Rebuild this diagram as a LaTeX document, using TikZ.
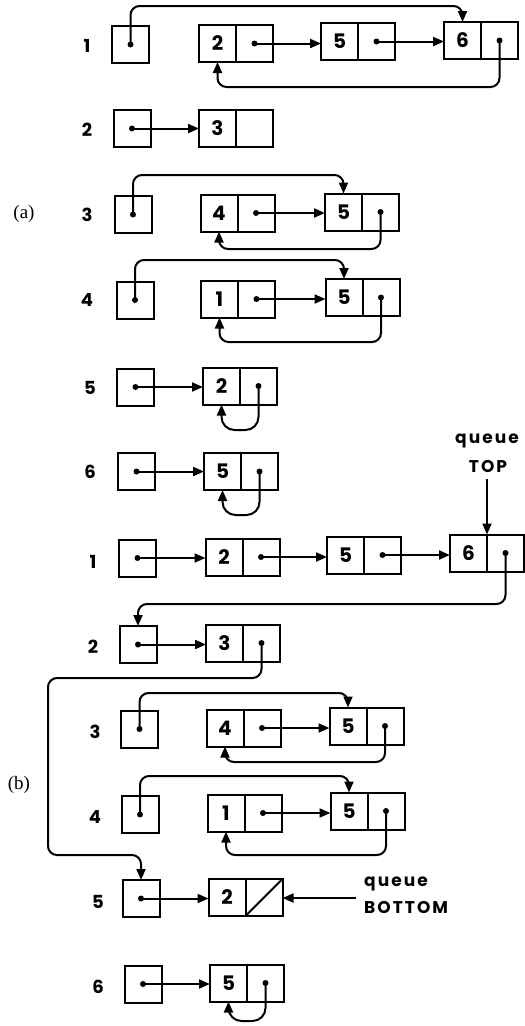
\documentclass[tikz,border=0pt]{standalone}
\usepackage{fontspec}
\usetikzlibrary{arrows.meta,calc}
\newfontfamily\lr{Poppins}
\newfontfamily\lrs{Poppins}[LetterSpace=12]
\newfontfamily\serf{Liberation Serif}
\newcommand{\pdot}[1]{\fill (#1.center) circle (3pt);}
\tikzset{
  box/.style={draw, line width=2pt, minimum width=37pt, minimum height=37pt, inner sep=0pt, outer sep=0pt},
  val/.style={box, font=\lr\bfseries\fontsize{20}{20}\selectfont},
  ptrbox/.style={box, anchor=west},
  lab/.style={font=\lr\bfseries\fontsize{18}{18}\selectfont},
  part/.style={font=\serf\fontsize{19}{19}\selectfont},
  qtext/.style={font=\lrs\bfseries\fontsize{17}{17}\selectfont, inner sep=0pt},
  conn/.style={line width=2pt, -{Triangle[length=11pt,width=9pt]}, rounded corners=9pt},
  loopc/.style={conn, rounded corners=13pt},
}
\begin{document}
\begin{tikzpicture}[x=1pt,y=-1pt]
\useasboundingbox (0,0) rectangle (525,1026);
% ---------------- (a) ----------------
\node[part] (pa) at (24,214) {(a)};
% row 1
\node[lab] (la1) at (87,46) {1};
\node[box] (a1h) at (130.5,44.5) {};
\node[val] (a1c2v) at (217.5,43.5) {2};
\node[ptrbox] (a1c2p) at (a1c2v.east) {};
\node[val] (a1c5v) at (339.5,41.5) {5};
\node[ptrbox] (a1c5p) at (a1c5v.east) {};
\node[val] (a1c6v) at (462.5,40.5) {6};
\node[ptrbox] (a1c6p) at (a1c6v.east) {};
\coordinate (a1t) at (0,6);
\coordinate (a1b) at (0,87);
\draw[conn] (a1h.center) -- (a1h.center |- a1t) -| (a1c6v.north);
\draw[conn] (a1c2p.center) -- (a1c2p.center -| a1c5v.west);
\draw[conn] (a1c5p.center) -- (a1c5p.center -| a1c6v.west);
\draw[conn] (a1c6p.center) -- (a1c6p.center |- a1b) -| (a1c2v.south);
\pdot{a1h}\pdot{a1c2p}\pdot{a1c5p}\pdot{a1c6p}
% row 2
\node[lab] (la2) at (87,130) {2};
\node[box] (a2h) at (132,128.5) {};
\node[val] (a2c3v) at (217.5,128.5) {3};
\node[ptrbox] (a2c3p) at (a2c3v.east) {};
\draw[conn] (a2h.center) -- (a2h.center -| a2c3v.west);
\pdot{a2h}
% row 3
\node[lab] (la3) at (87,215) {3};
\node[box] (a3h) at (133,214.5) {};
\node[val] (a3c4v) at (219,213) {4};
\node[ptrbox] (a3c4p) at (a3c4v.east) {};
\node[val] (a3c5v) at (343.5,212) {5};
\node[ptrbox] (a3c5p) at (a3c5v.east) {};
\coordinate (a3t) at (0,175);
\coordinate (a3b) at (0,249);
\draw[conn] (a3h.center) -- (a3h.center |- a3t) -| (a3c5v.north);
\draw[conn] (a3c4p.center) -- (a3c4p.center -| a3c5v.west);
\draw[conn] (a3c5p.center) -- (a3c5p.center |- a3b) -| (a3c4v.south);
\pdot{a3h}\pdot{a3c4p}\pdot{a3c5p}
% row 4
\node[lab] (la4) at (87,300) {4};
\node[box] (a4h) at (135,300) {};
\node[val] (a4c1v) at (219.5,299) {1};
\node[ptrbox] (a4c1p) at (a4c1v.east) {};
\node[val] (a4c5v) at (344,297.5) {5};
\node[ptrbox] (a4c5p) at (a4c5v.east) {};
\coordinate (a4t) at (0,260);
\coordinate (a4b) at (0,342);
\draw[conn] (a4h.center) -- (a4h.center |- a4t) -| (a4c5v.north);
\draw[conn] (a4c1p.center) -- (a4c1p.center -| a4c5v.west);
\draw[conn] (a4c5p.center) -- (a4c5p.center |- a4b) -| (a4c1v.south);
\pdot{a4h}\pdot{a4c1p}\pdot{a4c5p}
% row 5
\node[lab] (la5) at (90,388) {5};
\node[box] (a5h) at (135.5,387) {};
\node[val] (a5c2v) at (221.5,386) {2};
\node[ptrbox] (a5c2p) at (a5c2v.east) {};
\coordinate (a5b) at (0,430);
\draw[conn] (a5h.center) -- (a5h.center -| a5c2v.west);
\draw[loopc] (a5c2p.center) -- (a5c2p.center |- a5b) -| (a5c2v.south);
\pdot{a5h}\pdot{a5c2p}
% row 6
\node[lab] (la6) at (90,472) {6};
\node[box] (a6h) at (136.5,471.5) {};
\node[val] (a6c5v) at (222.5,471.5) {5};
\node[ptrbox] (a6c5p) at (a6c5v.east) {};
\coordinate (a6b) at (0,515);
\draw[conn] (a6h.center) -- (a6h.center -| a6c5v.west);
\draw[loopc] (a6c5p.center) -- (a6c5p.center |- a6b) -| (a6c5v.south);
\pdot{a6h}\pdot{a6c5p}
% ---------------- (b) ----------------
\node[part] (pb) at (19,785) {(b)};
% row 1
\node[lab] (lb1) at (93,562) {1};
\node[box] (b1h) at (137.5,558) {};
\node[val] (b1c2v) at (224,557) {2};
\node[ptrbox] (b1c2p) at (b1c2v.east) {};
\node[val] (b1c5v) at (345.5,555) {5};
\node[ptrbox] (b1c5p) at (b1c5v.east) {};
\node[val] (b1c6v) at (468.5,553) {6};
\node[ptrbox] (b1c6p) at (b1c6v.east) {};
\node[qtext] (qt1) at (487,441) {queue};
\node[qtext] (qt2) at (488,467) {TOP};
\coordinate (qts) at (487,479);
\draw[conn] (qts) -- (qts |- b1c6v.north);
\draw[conn] (b1h.center) -- (b1h.center -| b1c2v.west);
\draw[conn] (b1c2p.center) -- (b1c2p.center -| b1c5v.west);
\draw[conn] (b1c5p.center) -- (b1c5p.center -| b1c6v.west);
\coordinate (b1b) at (0,604);
\pdot{b1h}\pdot{b1c2p}\pdot{b1c5p}\pdot{b1c6p}
% row 2
\node[lab] (lb2) at (93,647) {2};
\node[box] (b2h) at (138,644.5) {};
\node[val] (b2c3v) at (224.5,643) {3};
\node[ptrbox] (b2c3p) at (b2c3v.east) {};
\draw[conn] (b1c6p.center) -- (b1c6p.center |- b1b) -| (b2h.north);
\draw[conn] (b2h.center) -- (b2h.center -| b2c3v.west);
\pdot{b2h}\pdot{b2c3p}
% row 3
\node[lab] (lb3) at (95,732) {3};
\node[box] (b3h) at (139.5,729) {};
\node[val] (b3c4v) at (225,728) {4};
\node[ptrbox] (b3c4p) at (b3c4v.east) {};
\node[val] (b3c5v) at (348,726) {5};
\node[ptrbox] (b3c5p) at (b3c5v.east) {};
\coordinate (b3t) at (0,693);
\coordinate (b3b) at (0,762);
\draw[conn] (b3h.center) -- (b3h.center |- b3t) -| (b3c5v.north);
\draw[conn] (b3c4p.center) -- (b3c4p.center -| b3c5v.west);
\draw[conn] (b3c5p.center) -- (b3c5p.center |- b3b) -| (b3c4v.south);
\pdot{b3h}\pdot{b3c4p}\pdot{b3c5p}
% row 4
\node[lab] (lb4) at (95,817) {4};
\node[box] (b4h) at (140,814.5) {};
\node[val] (b4c1v) at (226,813) {1};
\node[ptrbox] (b4c1p) at (b4c1v.east) {};
\node[val] (b4c5v) at (349,811) {5};
\node[ptrbox] (b4c5p) at (b4c5v.east) {};
\coordinate (b4t) at (0,776);
\coordinate (b4b) at (0,855);
\draw[conn] (b4h.center) -- (b4h.center |- b4t) -| (b4c5v.north);
\draw[conn] (b4c1p.center) -- (b4c1p.center -| b4c5v.west);
\draw[conn] (b4c5p.center) -- (b4c5p.center |- b4b) -| (b4c1v.south);
\pdot{b4h}\pdot{b4c1p}\pdot{b4c5p}
% row 5
\node[lab] (lb5) at (98,902) {5};
\node[box] (b5h) at (141,898.5) {};
\node[val] (b5c2v) at (227,897.5) {2};
\node[ptrbox] (b5c2p) at (b5c2v.east) {};
\draw[line width=2pt] (b5c2p.south west) -- (b5c2p.north east);
\coordinate (b2l1) at (48,678);
\coordinate (b2l2) at (48,855);
\draw[conn] (b2c3p.center) -- (b2c3p.center |- b2l1) -- (b2l1) -- (b2l2) -| (b5h.north);
\draw[conn] (b5h.center) -- (b5h.center -| b5c2v.west);
\node[qtext, anchor=west] (qb1) at (364,884) {queue};
\node[qtext, anchor=west] (qb2) at (364,907) {BOTTOM};
\coordinate (qbs) at (356,898);
\draw[conn] (qbs) -- (qbs -| b5c2p.east);
\pdot{b5h}
% row 6
\node[lab] (lb6) at (98,987) {6};
\node[box] (b6h) at (143,984) {};
\node[val] (b6c5v) at (228.5,983) {5};
\node[ptrbox] (b6c5p) at (b6c5v.east) {};
\coordinate (b6b) at (0,1021);
\draw[conn] (b6h.center) -- (b6h.center -| b6c5v.west);
\draw[loopc] (b6c5p.center) -- (b6c5p.center |- b6b) -| (b6c5v.south);
\pdot{b6h}\pdot{b6c5p}
\end{tikzpicture}
\end{document}
